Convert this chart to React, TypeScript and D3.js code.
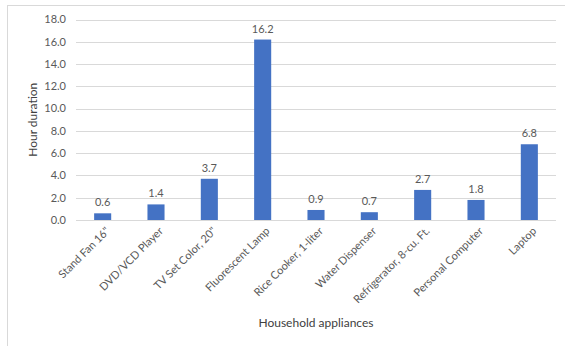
import { useEffect, useRef } from 'react';
import * as d3 from 'd3';

const categories = [
  'Stand Fan 16"',
  'DVD/VCD Player',
  'TV Set Color, 20"',
  'Fluorescent Lamp',
  'Rice Cooker, 1-liter',
  'Water Dispenser',
  'Refrigerator, 8-cu. Ft.',
  'Personal Computer',
  'Laptop',
];
const hours = [0.6, 1.4, 3.7, 16.2, 0.9, 0.7, 2.7, 1.8, 6.8];
const yTicks = [0, 2, 4, 6, 8, 10, 12, 14, 16, 18];

export default function App() {
  const svgRef = useRef<SVGSVGElement>(null);

  useEffect(() => {
    if (!svgRef.current) return;
    const svg = d3.select(svgRef.current);
    svg.selectAll('*').remove();

    const width = 565;
    const height = 346;
    const margin = { top: 19.5, right: 9, bottom: 126, left: 76 };
    const font = 'Lato, "Open Sans", sans-serif';
    const data = categories.map((c, i) => ({ label: c, value: hours[i] }));

    // chart frame (top and left edges visible)
    svg.append('rect')
      .attr('x', 7.5).attr('y', 5.5)
      .attr('width', 570).attr('height', 360)
      .attr('fill', 'white')
      .attr('stroke', '#d9d9d9');

    const x = d3.scaleBand()
      .domain(categories)
      .range([margin.left, width - margin.right])
      .paddingInner(0.68)
      .paddingOuter(0.34);

    const y = d3.scaleLinear()
      .domain([0, 18])
      .range([height - margin.bottom, margin.top]);

    // gridlines
    svg.append('g')
      .selectAll('line')
      .data(yTicks)
      .join('line')
      .attr('x1', margin.left)
      .attr('x2', width - margin.right)
      .attr('y1', d => Math.round(y(d)) + 0.5)
      .attr('y2', d => Math.round(y(d)) + 0.5)
      .attr('stroke', '#d9d9d9')
      .attr('stroke-width', 1);

    // y tick labels
    svg.append('g')
      .attr('font-family', font)
      .attr('font-size', 11)
      .attr('fill', '#595959')
      .attr('text-anchor', 'end')
      .selectAll('text')
      .data(yTicks)
      .join('text')
      .attr('x', 66)
      .attr('y', d => y(d))
      .attr('dy', '0.35em')
      .text(d => d.toFixed(1));

    // bars
    svg.append('g')
      .selectAll('rect')
      .data(data)
      .join('rect')
      .attr('x', d => x(d.label)!)
      .attr('y', d => y(d.value))
      .attr('width', x.bandwidth())
      .attr('height', d => y(0) - y(d.value))
      .attr('fill', '#4472c4');

    // value labels
    svg.append('g')
      .attr('font-family', font)
      .attr('font-size', 11)
      .attr('fill', '#595959')
      .attr('text-anchor', 'middle')
      .selectAll('text')
      .data(data)
      .join('text')
      .attr('x', d => x(d.label)! + x.bandwidth() / 2)
      .attr('y', d => y(d.value) - 7)
      .text(d => d.value.toFixed(1));

    // x category labels, rotated
    svg.append('g')
      .attr('font-family', font)
      .attr('font-size', 11)
      .attr('fill', '#595959')
      .attr('text-anchor', 'end')
      .selectAll('text')
      .data(categories)
      .join('text')
      .attr('transform', d => `translate(${x(d)! + x.bandwidth() / 2 + 5},${y(0) + 9}) rotate(-45)`)
      .attr('dy', '0.35em')
      .text(d => d);

    // axis titles
    svg.append('text')
      .attr('x', 316)
      .attr('y', 327)
      .attr('text-anchor', 'middle')
      .attr('font-family', font)
      .attr('font-size', 12)
      .attr('fill', '#404040')
      .text('Household appliances');

    svg.append('text')
      .attr('transform', `translate(37,${(y(0) + y(18)) / 2 + 0}) rotate(-90)`)
      .attr('text-anchor', 'middle')
      .attr('font-family', font)
      .attr('font-size', 12)
      .attr('fill', '#404040')
      .text('Hour duration');
  }, []);

  return (
    <svg
      ref={svgRef}
      width={565}
      height={346}
      style={{ position: 'absolute', left: 0, top: 0, background: 'white' }}
    />
  );
}
